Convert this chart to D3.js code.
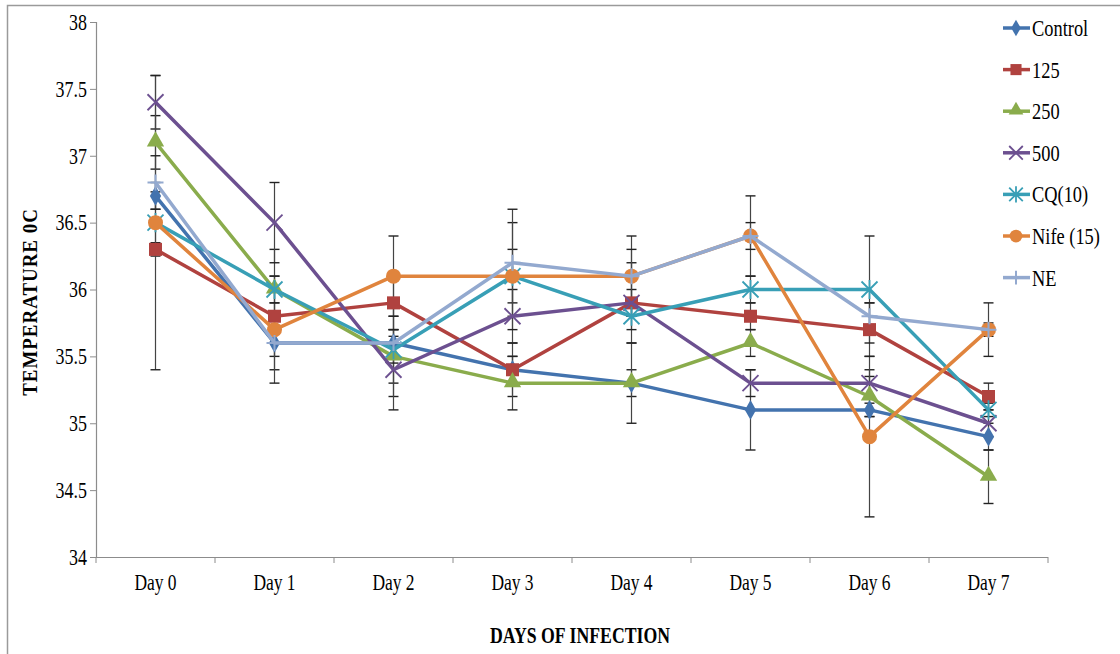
<!DOCTYPE html>
<html>
<head>
<meta charset="utf-8">
<script src="https://cdn.jsdelivr.net/npm/d3@7"></script>
<style>
  body { margin: 0; background: #fff; }
  text { font-family: "Liberation Serif", "Times New Roman", serif; fill: #000; }
</style>
</head>
<body>
<script>
// days and series values
var days = ["Day 0", "Day 1", "Day 2", "Day 3", "Day 4", "Day 5", "Day 6", "Day 7"];
var yTicks = [34, 34.5, 35, 35.5, 36, 36.5, 37, 37.5, 38];

var control = [36.7, 35.6, 35.6, 35.4, 35.3, 35.1, 35.1, 34.9];
var d125    = [36.3, 35.8, 35.9, 35.4, 35.9, 35.8, 35.7, 35.2];
var d250    = [37.1, 36.0, 35.5, 35.3, 35.3, 35.6, 35.2, 34.6];
var d500    = [37.4, 36.5, 35.4, 35.8, 35.9, 35.3, 35.3, 35.0];
var cq10    = [36.5, 36.0, 35.55, 36.1, 35.8, 36.0, 36.0, 35.1];
var nife15  = [36.5, 35.7, 36.1, 36.1, 36.1, 36.4, 34.9, 35.7];
var ne      = [36.8, 35.6, 35.6, 36.2, 36.1, 36.4, 35.8, 35.7];

// error bar half-widths (estimated from caps)
var controlErr = [0.1, 0.2, 0.3, 0.1, 0.1, 0.3, 0.05, 0.1];
var d125Err    = [0.05, 0.3, 0.2, 0.2, 0.3, 0.1, 0.2, 0.1];
var d250Err    = [0.2, 0.3, 0.3, 0.2, 0.3, 0.1, 0.15, 0.2];
var d500Err    = [0.2, 0.3, 0.3, 0.2, 0.1, 0.1, 0.1, 0.1];
var cq10Err    = [1.1, 0.1, 0.1, 0.2, 0.1, 0.1, 0.4, 0.05];
var nife15Err  = [0.23, 0.1, 0.3, 0.4, 0.3, 0.3, 0.6, 0.2];
var neErr      = [0.2, 0.3, 0.1, 0.4, 0.2, 0.1, 0.1, 0.05];

var series = [
  {name: "Control",   values: control, err: controlErr, color: "#4373ae", marker: "diamond"},
  {name: "125",       values: d125,    err: d125Err,    color: "#b0423f", marker: "square"},
  {name: "250",       values: d250,    err: d250Err,    color: "#8aac4c", marker: "triangle"},
  {name: "500",       values: d500,    err: d500Err,    color: "#6c5090", marker: "x"},
  {name: "CQ(10)",    values: cq10,    err: cq10Err,    color: "#389fb6", marker: "star"},
  {name: "Nife (15)", values: nife15,  err: nife15Err,  color: "#e0843d", marker: "circle"},
  {name: "NE",        values: ne,      err: neErr,      color: "#93a9cf", marker: "plus"}
];

var width = 1120, height = 654;
var plot = {left: 96, right: 1048, top: 22, bottom: 557};

var svg = d3.select("body").append("svg")
    .attr("width", width)
    .attr("height", height);

// outer frame
svg.append("rect")
    .attr("x", 7.5).attr("y", 5.5)
    .attr("width", 1130).attr("height", 680)
    .attr("fill", "none").attr("stroke", "#9a9a9a").attr("stroke-width", 1.5);

var x = d3.scaleBand().domain(days).range([plot.left, plot.right]).padding(0);
var y = d3.scaleLinear().domain([34, 38]).range([plot.bottom, plot.top]);
var cx = function(i) { return x(days[i]) + x.bandwidth() / 2; };

// axes
var yAxis = svg.append("g")
    .attr("transform", "translate(" + plot.left + ",0)")
    .call(d3.axisLeft(y).tickValues(yTicks).tickSize(6).tickPadding(8).tickFormat(d3.format("")));
yAxis.selectAll("text")
    .style("font-size", "23px")
    .attr("x", -9 / 0.78)
    .attr("transform", "scale(0.78,1)");

var xAxis = svg.append("g")
    .attr("transform", "translate(0," + plot.bottom + ")")
    .call(d3.axisBottom(x).tickSize(0).tickPadding(17));
xAxis.selectAll("text")
    .style("font-size", "23px")
    .attr("transform", "scale(0.76,1)");
// band edge ticks like the original
xAxis.selectAll(".edge").data(d3.range(days.length + 1)).enter().append("line")
    .attr("class", "edge")
    .attr("x1", function(i) { return plot.left + i * x.bandwidth(); })
    .attr("x2", function(i) { return plot.left + i * x.bandwidth(); })
    .attr("y1", 0).attr("y2", 6)
    .attr("stroke", "#8c8c8c");
svg.selectAll(".domain").attr("stroke", "#8c8c8c").attr("stroke-width", 1.2);
yAxis.selectAll(".tick line").attr("stroke", "#8c8c8c");
xAxis.select(".domain").attr("d", "M" + plot.left + ",0.5H" + plot.right);

// axis titles
svg.append("text")
    .attr("transform", "translate(37,302) rotate(-90) scale(0.95,1)")
    .attr("text-anchor", "middle")
    .style("font-size", "20px").style("font-weight", "bold")
    .style("letter-spacing", "1px")
    .text("TEMPERATURE 0C");

svg.append("text")
    .attr("transform", "translate(580,643) scale(0.74,1)")
    .attr("text-anchor", "middle")
    .style("font-size", "24px").style("font-weight", "bold")
    .text("DAYS OF INFECTION");

// error bars
series.forEach(function(s) {
  var g = svg.append("g").attr("class", "err");
  s.values.forEach(function(v, i) {
    var lo = y(v - s.err[i]), hi = y(v + s.err[i]), xc = cx(i);
    g.append("line").attr("x1", xc).attr("x2", xc).attr("y1", lo).attr("y2", hi)
        .attr("stroke", "#444").attr("stroke-width", 1.2);
    [lo, hi].forEach(function(yy) {
      g.append("line").attr("x1", xc - 5).attr("x2", xc + 5).attr("y1", yy).attr("y2", yy)
          .attr("stroke", "#222").attr("stroke-width", 1.4);
    });
  });
});

// markers
function drawMarker(g, type, color, px, py, scale) {
  var k = scale || 1;
  if (type === "diamond") {
    g.append("path").attr("d", d3.symbol(d3.symbolDiamond, 110 * k * k)())
      .attr("transform", "translate(" + px + "," + py + ")").attr("fill", color);
  } else if (type === "square") {
    g.append("path").attr("d", d3.symbol(d3.symbolSquare, 170 * k * k)())
      .attr("transform", "translate(" + px + "," + py + ")").attr("fill", color);
  } else if (type === "triangle") {
    g.append("path").attr("d", d3.symbol(d3.symbolTriangle, 130 * k * k)())
      .attr("transform", "translate(" + px + "," + (py - 1) + ")").attr("fill", color);
  } else if (type === "circle") {
    g.append("circle").attr("cx", px).attr("cy", py).attr("r", 7.5 * k).attr("fill", color);
  } else if (type === "x" || type === "star") {
    var r = 8 * k;
    var p = d3.path();
    p.moveTo(px - r, py - r); p.lineTo(px + r, py + r);
    p.moveTo(px - r, py + r); p.lineTo(px + r, py - r);
    if (type === "star") { p.moveTo(px, py - r * 1.2); p.lineTo(px, py + r * 1.2); }
    g.append("path").attr("d", p.toString()).attr("stroke", color)
      .attr("stroke-width", 1.8).attr("fill", "none");
  } else if (type === "plus") {
    var r2 = 8 * k;
    var q = d3.path();
    q.moveTo(px - r2, py); q.lineTo(px + r2, py);
    q.moveTo(px, py - r2); q.lineTo(px, py + r2);
    g.append("path").attr("d", q.toString()).attr("stroke", color)
      .attr("stroke-width", 2).attr("fill", "none");
  }
}

var line = d3.line()
    .x(function(d, i) { return cx(i); })
    .y(function(d) { return y(d); });

series.forEach(function(s) {
  var g = svg.append("g").attr("class", "series");
  g.append("path")
      .datum(s.values)
      .attr("d", line)
      .attr("fill", "none")
      .attr("stroke", s.color)
      .attr("stroke-width", 3.5)
      .attr("stroke-linejoin", "round");
  s.values.forEach(function(v, i) {
    drawMarker(g, s.marker, s.color, cx(i), y(v));
  });
});

// legend
var legend = svg.append("g").attr("class", "legend");
series.forEach(function(s, i) {
  var ly = 28 + i * 41.6;
  legend.append("line")
      .attr("x1", 1003).attr("x2", 1030).attr("y1", ly).attr("y2", ly)
      .attr("stroke", s.color).attr("stroke-width", 3.5);
  drawMarker(legend, s.marker, s.color, 1016, ly, 0.85);
  legend.append("text")
      .attr("transform", "translate(1032," + (ly + 8) + ") scale(0.8,1)")
      .style("font-size", "23px")
      .text(s.name);
});
</script>
</body>
</html>
